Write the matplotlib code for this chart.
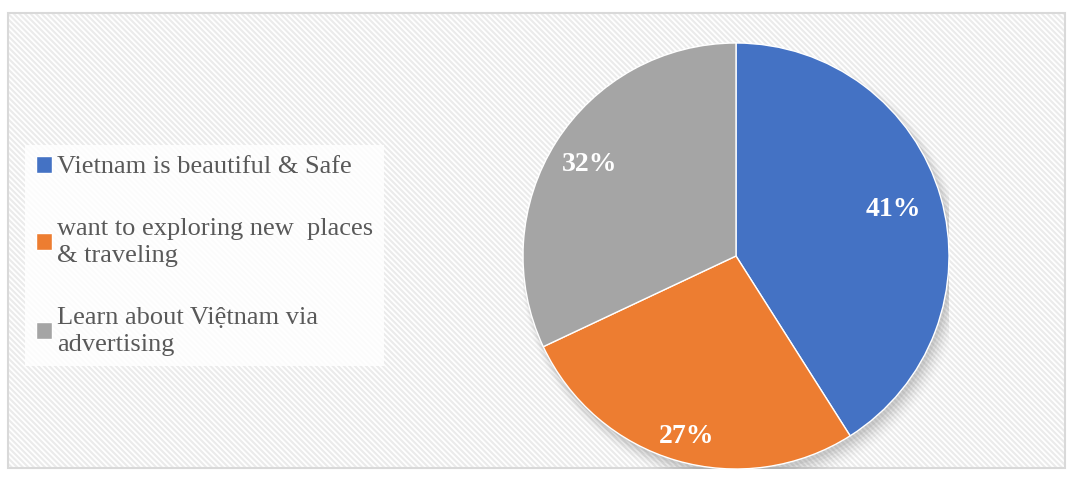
import matplotlib
matplotlib.use("Agg")
import matplotlib.pyplot as plt
import numpy as np
from matplotlib.patches import Rectangle, Circle

categories = ["Vietnam is beautiful & Safe",
              "want to exploring new  places\n& traveling",
              "Learn about Việtnam via\nadvertising"]
values = [41, 27, 32]
colors = ["#4472C4", "#ED7D31", "#A5A5A5"]
label_angles = [16.3, -105.4, 148.0]
label_dists = [0.77, 0.88, 0.81]

plt.rcParams['font.family'] = ['Liberation Serif', 'DejaVu Serif']
plt.rcParams['hatch.linewidth'] = 1.5
plt.rcParams['hatch.color'] = '#ebebeb'

fig = plt.figure(figsize=(10.7, 4.91), dpi=100)
W, H = 1070, 491

# background frame with stripes
bg = fig.add_axes([0, 0, 1, 1])
bg.set_xlim(0, W); bg.set_ylim(H, 0); bg.axis('off')
bg.add_patch(Rectangle((8, 13), 1057, 455, facecolor='white', edgecolor='#d9d9d9', lw=1.5))
bg.add_patch(Rectangle((9, 14), 1055, 453, facecolor='none', edgecolor='#ebebeb', hatch='\\' * 6, lw=0))

# pie axes
cx, cy, r = 736, 256, 213
ax = fig.add_axes([(cx - r) / W, 1 - (cy + r) / H, 2 * r / W, 2 * r / H])
# soft shadow
for i, a in enumerate(np.linspace(0.05, 0.012, 6)):
    ax.add_patch(Circle((0.012 + 0.004 * i, -0.02 - 0.006 * i), 1.0 + 0.008 * i,
                        color='black', alpha=a, lw=0, zorder=0))
wedges, texts, autotexts = ax.pie(values, colors=colors, startangle=90, counterclock=False,
                                  autopct='%d%%', radius=1.0,
                                  wedgeprops=dict(linewidth=1.0, edgecolor='white'),
                                  textprops=dict(color='white', fontsize=20, fontweight='bold'))
for t, ang, d in zip(autotexts, label_angles, label_dists):
    t.set_position((d * np.cos(np.radians(ang)), d * np.sin(np.radians(ang))))
ax.set_aspect('auto')
ax.set_xlim(-1, 1); ax.set_ylim(-1, 1); ax.axis('off')

# legend
lg = fig.legend(wedges, categories, loc='upper left', bbox_to_anchor=(25 / W, 1 - 145 / H),
                frameon=True, fontsize=19, labelcolor='#595959', handlelength=0.62, handleheight=0.62,
                handletextpad=0.2, labelspacing=1.5, borderpad=0.4, borderaxespad=0, fancybox=False)
for t in lg.get_texts():
    t.set_linespacing(1.3)
lg.get_frame().set_edgecolor('none')
lg.get_frame().set_facecolor('white')
lg.get_frame().set_alpha(0.85)

fig.savefig("out.png", dpi=100)
